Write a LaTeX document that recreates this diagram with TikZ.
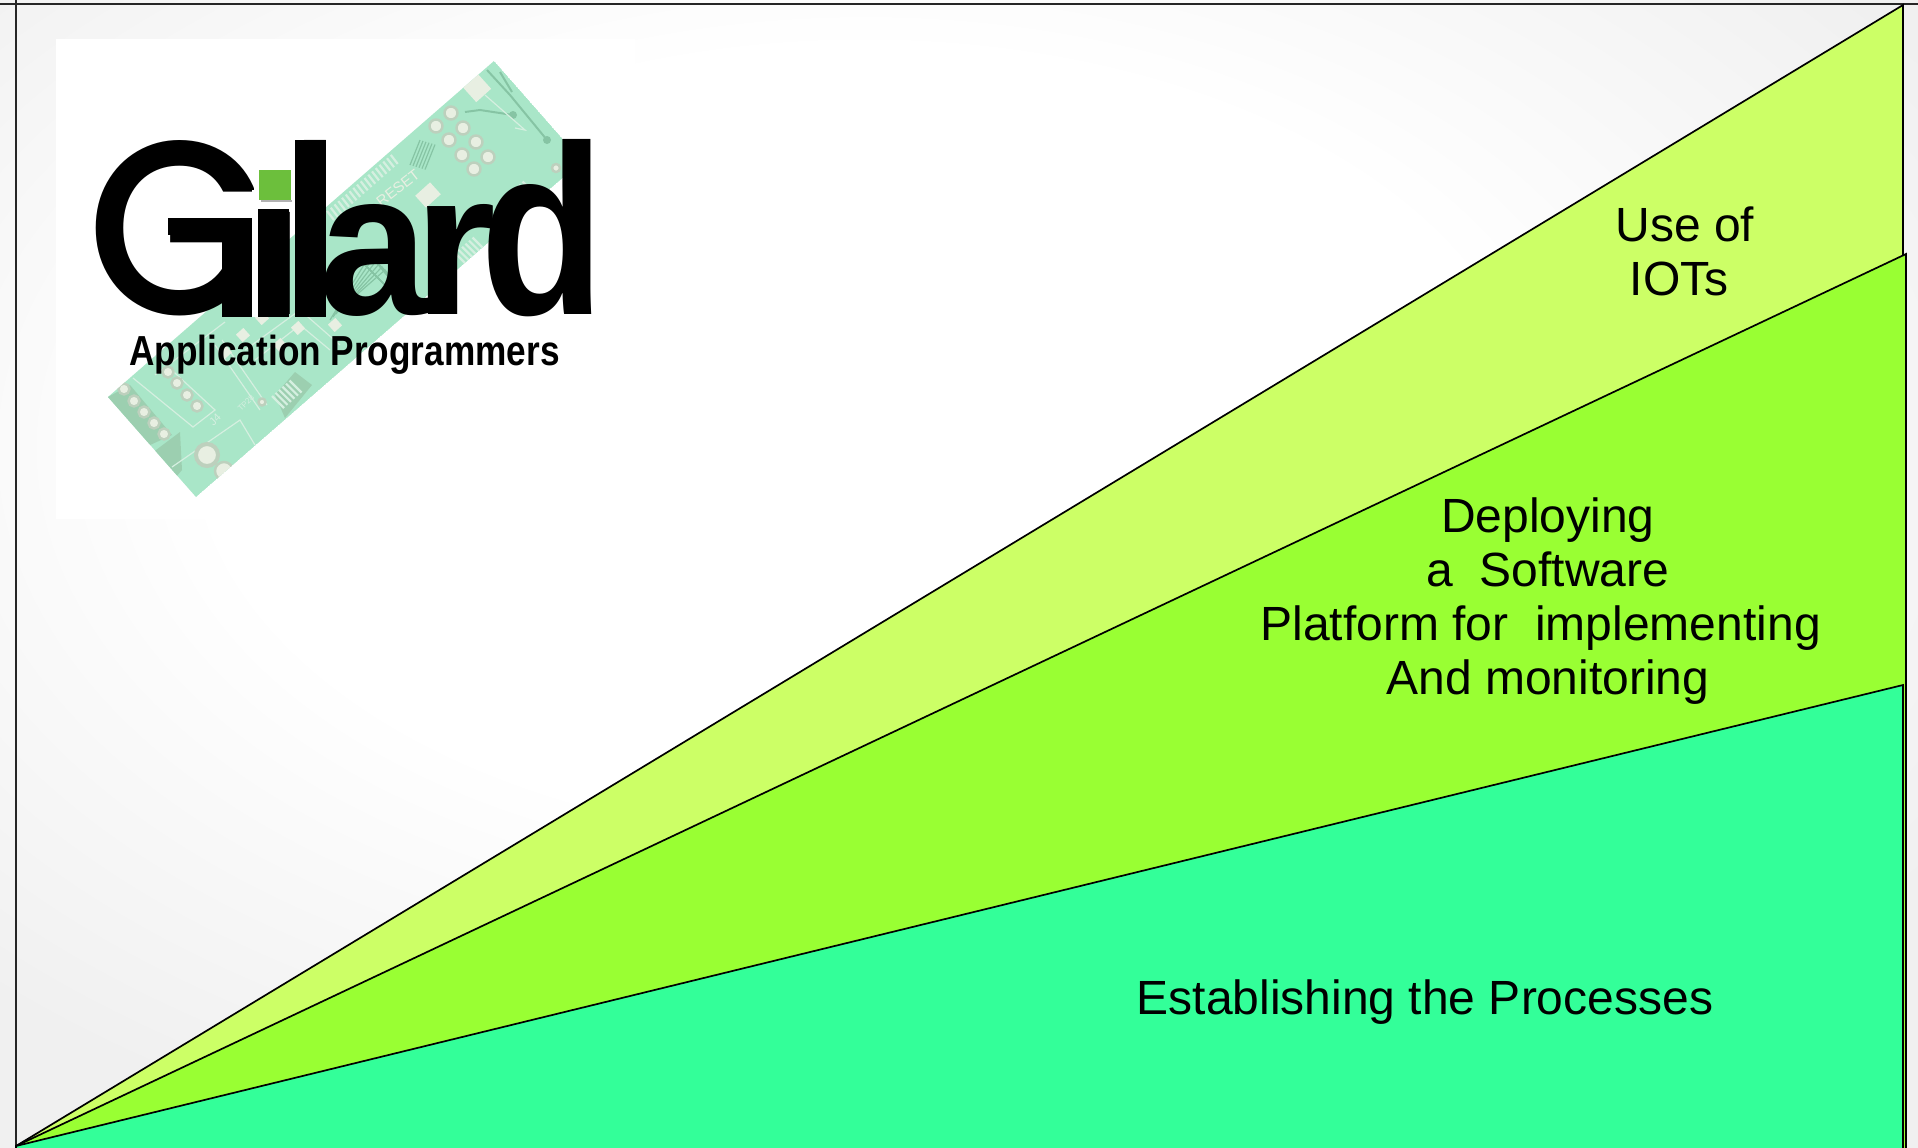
\documentclass[tikz,border=0pt]{standalone}
\usepackage{fontspec}
\usepackage{graphicx}
\setmainfont{Liberation Sans}
\newfontfamily\logofont{Liberation Sans Bold}
\newfontfamily\logofontg{Poppins Medium}
\pgfdeclareradialshading{bgsh}{\pgfpoint{-3bp}{7bp}}{color(0bp)=(white);color(17bp)=(white);color(33bp)=(black!6);color(100bp)=(black!6)}
\definecolor{boardc}{HTML}{A9E6C8}
\definecolor{boardd}{HTML}{9CCFB0}
\definecolor{tria}{HTML}{CCFF66}
\definecolor{trib}{HTML}{99FF33}
\definecolor{tric}{HTML}{33FF99}
\definecolor{padc}{HTML}{E8EFE2}
\definecolor{padl}{HTML}{BDD0BD}
\definecolor{tracec}{HTML}{86C4A4}
\definecolor{tracew}{HTML}{D5EFE0}
\definecolor{logogreen}{HTML}{6CBF3C}
\tikzset{
  wedge/.style={draw=black,line width=0.85pt,line join=miter},
  frameline/.style={draw=black!85,line width=1pt},
  label/.style={font=\fontsize{24}{27}\selectfont,align=center,inner sep=0pt,text=black},
  pad/.style={circle,draw=padl,line width=1.2pt,fill=padc,minimum size=6.5pt,inner sep=0pt},
  trace/.style={draw=tracec,line width=0.6pt},
  tracel/.style={draw=tracew,line width=0.6pt},
  chip/.style={fill=padc},
}
\newcommand{\lgl}[4]{\rlap{\hspace*{#1}\resizebox{#2}{#3}{\logofont #4}}}
\begin{document}
\begin{tikzpicture}[x=0.5pt,y=-0.5pt]
\useasboundingbox (0,0) rectangle (1918,1147);
\clip (0,0) rectangle (1918,1147);
\shade[shading=bgsh] (0,0) rectangle (1918,1147);
% logo panel
\fill[white] (56,39) rectangle (635,519);
% board
\coordinate (bt) at (494,61);
\coordinate (bl) at (108,397);
\coordinate (bb) at (196,497);
\coordinate (br) at (582,161);
\begin{scope}
\clip (bt) -- (br) -- (bb) -- (bl) -- cycle;
\fill[boardc] (bt) -- (br) -- (bb) -- (bl) -- cycle;
% darker areas
\fill[boardd] (140,462) -- (180,432) -- (182,470) -- (165,490) -- cycle;
\fill[boardd] (275,395) -- (295,372) -- (312,385) -- (285,418) -- cycle;
\fill[boardd] (108,397) -- (130,385) -- (172,435) -- (150,445) -- cycle;
% traces
\draw[trace,line width=1pt] (487,70) -- (510,95) -- (547,140);
\draw[trace,line width=1pt] (465,112) -- (480,110) -- (513,115);
\draw[trace,line width=1pt] (500,72) -- (512,92);
\node[circle,fill=tracec,minimum size=4pt,inner sep=0pt] (v1) at (547,140) {};
\node[circle,fill=tracec,minimum size=4pt,inner sep=0pt] (v2) at (513,115) {};
\draw[tracel] (485,95) -- (525,130) -- (515,128);
\foreach \i in {0,3,6,9,12,15}{
  \draw[trace] (410+\i,165+\i*0.3) -- (420+\i,140+\i*0.3);
  \draw[trace] (330+\i,320-\i) -- (370+\i,255+\i) -- (395+\i,285+\i);
  \draw[trace] (355+\i,255+\i) -- (390+\i,290+\i);
}
\foreach \i in {0,...,17}
  \draw[tracew,line width=1.1pt] (327+\i*3.75,211-\i*3.3) -- ++(7,9);
\foreach \i in {0,...,5}
  \draw[tracew,line width=1.1pt] (505+\i*3.5,197-\i*3.1) -- ++(12,12);
\foreach \i in {0,...,5}
  \draw[tracew,line width=1.1pt] (272+\i*3.5,396-\i*3.1) -- ++(12,12);
\foreach \i in {0,...,5}
  \draw[tracew,line width=1.1pt] (455+\i*3.5,253-\i*3.1) -- ++(12,12);
% white outlines
\draw[tracel] (133,378) -- (193,427) -- (215,410) -- (150,350);
\draw[tracel] (155,375) -- (225,322);
\draw[tracel] (172,467) -- (240,420) -- (255,445);
\draw[tracel] (215,345) -- (260,410);
\draw[tracel] (222,340) -- (267,405);
\draw[tracel] (245,350) -- (300,310) -- (340,345);
\draw[tracel] (255,360) -- (300,325) -- (330,350);
% pads
\foreach \a/\b in {451/113,436/126,463/128,449/140,476/142,462/155,488/157,474/169}
  \node[pad] at (\a,\b) {};
\foreach \a/\b in {124/389,134/401,144/412,154/423,164/434,168/372,177/383,187/395,197/406}
  \node[pad,minimum size=5.5pt] at (\a,\b) {};
\node[pad,minimum size=11pt,line width=2pt] (bigpad) at (207,455) {};
\node[pad,minimum size=9pt] (bigpad2) at (224,471) {};
\node[pad,minimum size=4pt] (sp1) at (556,168) {};
\node[pad,minimum size=3.5pt] (sp2) at (262,402) {};
\fill[chip,rotate around={42:(477,88)}] (467,78) rectangle (487,98);
\fill[chip,rotate around={42:(428,195)}] (418,187) rectangle (438,203);
\foreach \a/\b in {225/352,243/335,262/318,280/345,298/328,316/310,335/325}
  \fill[chip,rotate around={42:(\a,\b)}] (\a-5,\b-5) rectangle (\a+5,\b+5);
\node[rotate=38,font=\fontsize{7.5}{9}\selectfont,text=padc,inner sep=0pt] (rst) at (398,188) {RESET};
\node[rotate=45,font=\fontsize{5.5}{6}\selectfont,text=tracew,inner sep=0pt] (jf) at (215,420) {J4};
\node[rotate=45,font=\fontsize{4}{5}\selectfont,text=tracew,inner sep=0pt] (tp) at (246,403) {TP28};
\end{scope}
% Gilard wordmark: one text, letters placed by absolute offsets from x=80
\node[anchor=south west,inner sep=0pt,outer sep=0pt] (gilard) at (80,317) {%
  \rlap{\hspace*{3.5pt}\resizebox{91pt}{87pt}{\logofontg G}}%
  \lgl{89pt}{22pt}{70pt}{i}%
  \lgl{107pt}{22pt}{87pt}{l}%
  \lgl{119.5pt}{54.5pt}{55pt}{a}%
  \lgl{167pt}{41.5pt}{55pt}{r}%
  \lgl{200pt}{62.3pt}{87.5pt}{d}%
  \hspace*{258pt}};
\fill[black] (168,218) rectangle (252,235);
\fill[black] (222,218) rectangle (252,317);
\fill[white] (252,190) rectangle (258,317);
\fill[white] (254,160) rectangle (293,209);
\fill[black] (258,209) rectangle (289,317);
\fill[black] (295,140) rectangle (326,317);
\fill[black!30] (261,200) rectangle (292,202);
\fill[logogreen] (259,170) rectangle (291,200);
\node[anchor=base west,inner sep=0pt,font=\fontsize{21}{24}\selectfont\bfseries] (app) at (129,365) {\scalebox{0.838}[1]{Application Programmers}};
% frame
\draw[frameline] (0,4) -- (1918,4);
\draw[frameline] (16,0) -- (16,1160);
% wedges
\coordinate (apex) at (16,1146);
\coordinate (ta) at (1903,5);
\coordinate (tb) at (1906,254);
\coordinate (tc) at (1903,685);
\draw[wedge,fill=tria] (apex) -- (ta) -- (1903,1160) -- (16,1160) -- cycle;
\draw[wedge,fill=trib] (apex) -- (tb) -- (1906,1160) -- (16,1160) -- cycle;
\draw[wedge,fill=tric] (apex) -- (tc) -- (1903,1160) -- (16,1160) -- cycle;
% labels
\node[label] (iot) at (1685,251) {Use of\\IOTs\rule{6pt}{0pt}};
\node[label] (dep) at (1548,601) {Deploying\\a\ \ Software\\Platform for\ \ implementing\rule{7.3pt}{0pt}\\And monitoring};
\node[label] (est) at (1425,1002) {Establishing the Processes};
\end{tikzpicture}
\end{document}
